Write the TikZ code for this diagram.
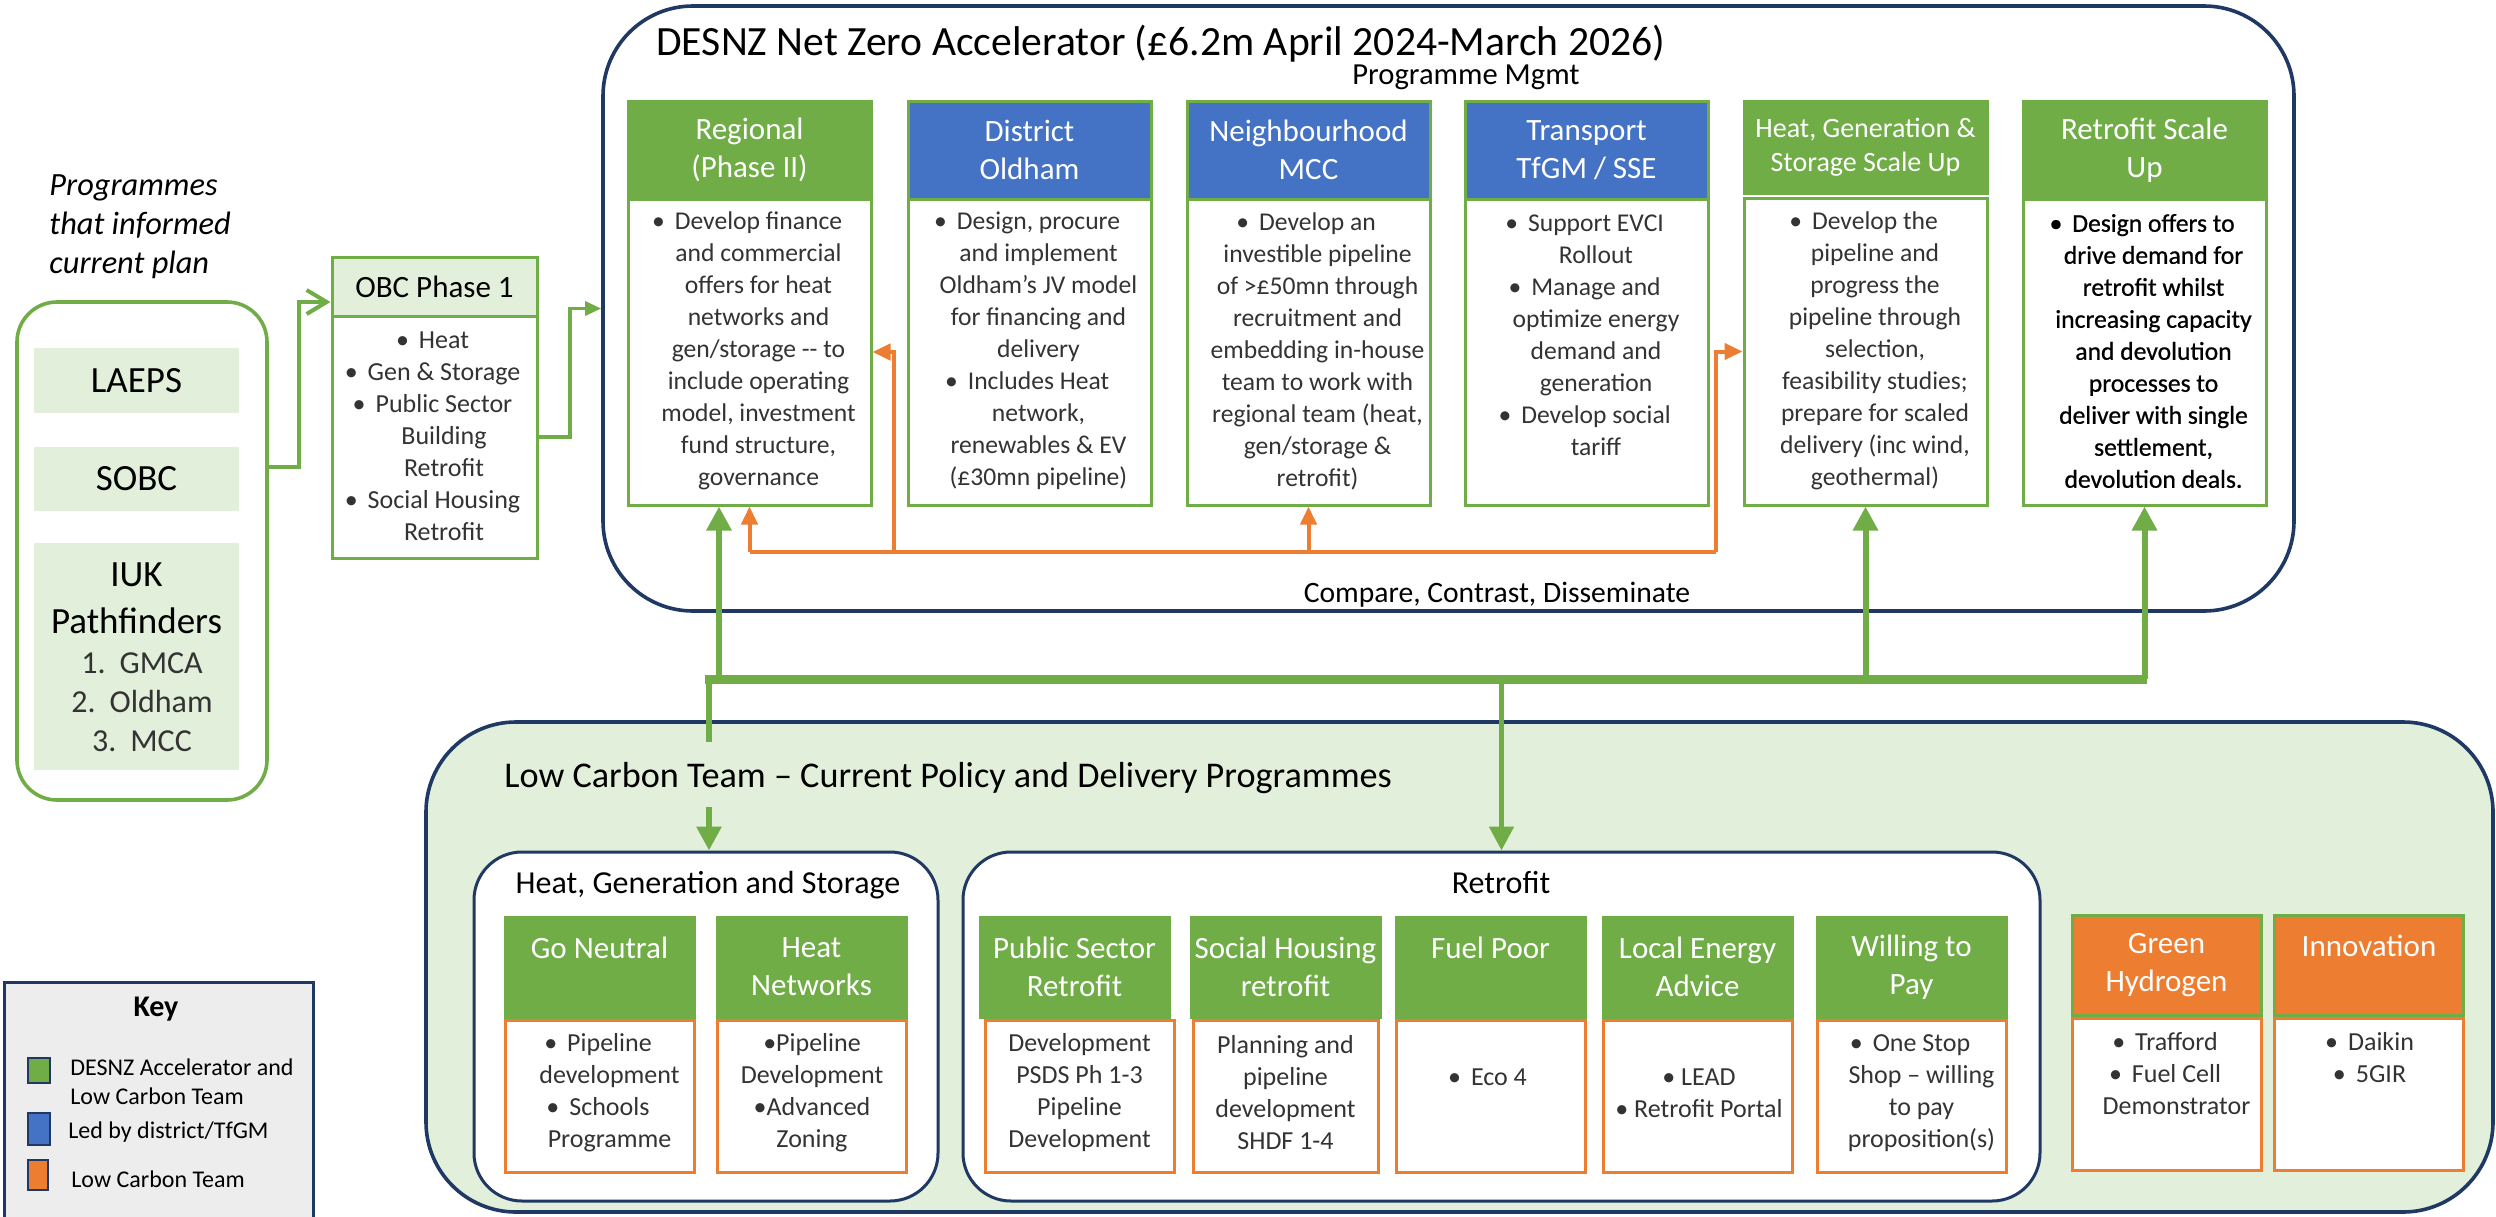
\documentclass[tikz,border=0pt]{standalone}
\usepackage{fontspec}
\setmainfont{Carlito}
\newfontface\semib[RawFeature={embolden=0.7}]{Carlito}
\usetikzlibrary{arrows.meta}
\definecolor{cgreen}{HTML}{70AD47}
\definecolor{cblue}{HTML}{4472C4}
\definecolor{corange}{HTML}{ED7D31}
\definecolor{cnavy}{HTML}{1F3864}
\definecolor{clight}{HTML}{E2EFDA}
\definecolor{ckey}{HTML}{EDEDED}
\definecolor{ctext}{HTML}{333333}
\newcommand\bulx{\llap{•\hspace{5pt}}}
\tikzset{
  sz/.style 2 args={minimum width=#1*0.5pt, minimum height=#2*0.5pt, inner sep=0pt},
  roundbox/.style={draw=cnavy, line width=1.8pt, rounded corners=45pt},
  subbox/.style={draw=cnavy, fill=white, line width=1.5pt, rounded corners=24pt},
  hdr/.style={draw=cgreen, fill=cgreen, line width=1.5pt, text=white, align=center, font=\fontsize{15.5}{19}\selectfont},
  bhdr/.style={hdr, fill=cblue},
  ohdr/.style={hdr, fill=corange},
  gbox/.style={draw=cgreen, fill=white, line width=1.5pt},
  obox/.style={draw=corange, fill=white, line width=1.5pt},
  bodytxt/.style={align=center, text=ctext, inner sep=0pt, font=\fontsize{12.8}{16}\selectfont},
  lowtxt/.style={align=center, text=ctext, inner sep=0pt, font=\fontsize{13}{16}\selectfont},
  item/.style={fill=clight, text=black, align=center},
  keysq/.style={draw=cnavy, line width=1.2pt},
  keytxt/.style={align=left, text=black, inner sep=0pt, font=\fontsize{12}{14.5}\selectfont},
  oline/.style={draw=corange, line width=2pt},
  oarr/.style={oline, -{Triangle[length=9pt, width=8pt]}},
  garr/.style={draw=cgreen, line width=3pt, -{Triangle[length=12pt, width=12pt]}},
  gbar/.style={draw=cgreen, line width=4.5pt},
  gopen/.style={draw=cgreen, line width=2pt, -{Straight Barb[length=10pt, width=12pt]}},
  gthin/.style={draw=cgreen, line width=1.6pt, -{Triangle[length=8pt, width=7pt]}}
}
\begin{document}
\begin{tikzpicture}[x=0.5pt, y=-0.5pt]
\useasboundingbox[fill=white] (0,0) rectangle (2496,1216);

% ---------- big containers ----------
\node[roundbox, fill=white, sz={1691}{605}] (desnz) at (1448.5,308.5) {};
\node[roundbox, fill=clight, sz={2067}{490}] (lct) at (1459.5,967) {};

% ---------- left column ----------
\node[anchor=west, align=left, inner sep=0pt, font=\itshape\fontsize{16.2}{19.5}\selectfont] (informed) at (49,227) {Programmes\\that informed\\current plan};
\node[draw=cgreen, line width=1.8pt, rounded corners=20pt, sz={250}{498}] (prog) at (142,551) {};
\node[item, sz={205}{65}, font=\fontsize{18.5}{22}\selectfont] (laeps) at (136.5,380.5) {LAEPS};
\node[item, sz={205}{64}, font=\fontsize{18.5}{22}\selectfont] (sobc) at (136.5,479) {SOBC};
\node[item, sz={205}{227}] (iuk) at (136.5,656.5) {};
\node[align=center, inner sep=0pt, font=\fontsize{18.5}{23.5}\selectfont] (iukt) at (136.5,598.5) {IUK\\Pathfinders};
\node[align=center, inner sep=0pt, text=ctext, font=\fontsize{16}{19.5}\selectfont] (iukl) at (142,702) {1.\hspace{7pt}GMCA\\2.\hspace{7pt}Oldham\\3.\hspace{7pt}MCC};

% ---------- OBC ----------
\node[draw=cgreen, fill=clight, line width=1.5pt, sz={205}{59}, font=\fontsize{15.5}{19}\selectfont] (obcH) at (434.5,286.5) {OBC Phase 1};
\node[gbox, sz={205}{242}] (obcB) at (434.5,437) {};
\node[lowtxt] (obcT) at (444,436) {\bulx Heat\\\bulx Gen \& Storage\\\bulx Public Sector\\Building\\Retrofit\\\bulx Social Housing\\Retrofit};

% ---------- DESNZ titles ----------
\node[anchor=base west, inner sep=0pt, font=\fontsize{20.8}{24}\selectfont] (title) at (656,55) {DESNZ Net Zero Accelerator (£6.2m April 2024-March 2026)};
\node[anchor=base, inner sep=0pt, font=\fontsize{15.3}{18}\selectfont] (pm) at (1466,84) {Programme Mgmt};
\node[anchor=base, inner sep=0pt, font=\fontsize{14.8}{17}\selectfont] (ccd) at (1497,602) {Compare, Contrast, Disseminate};

% ---------- top boxes ----------
\node[hdr, sz={243}{98}] (rgH) at (749.5,150) {Regional\\(Phase II)};
\node[gbox, sz={243}{306}] (rgB) at (749.5,352) {};
\node[bodytxt] (rgT) at (758.5,351) {\bulx Develop finance\\and commercial\\offers for heat\\networks and\\gen/storage -{}- to\\include operating\\model, investment\\fund structure,\\governance};

\node[bhdr, sz={243}{98}] (dsH) at (1029.5,150) {District\\Oldham};
\node[gbox, sz={243}{306}] (dsB) at (1029.5,352) {};
\node[bodytxt] (dsT) at (1038.5,351) {\bulx Design, procure\\and implement\\Oldham's JV model\\for financing and\\delivery\\\bulx Includes Heat\\network,\\renewables \& EV\\(£30mn pipeline)};

\node[bhdr, sz={243}{98}] (nbH) at (1308.5,150) {Neighbourhood\\MCC};
\node[gbox, sz={243}{306}] (nbB) at (1308.5,352) {};
\node[bodytxt] (nbT) at (1317.5,351) {\bulx Develop an\\investible pipeline\\of >£50mn through\\recruitment and\\embedding in-house\\team to work with\\regional team (heat,\\gen/storage \&\\retrofit)};

\node[bhdr, sz={243}{98}] (trH) at (1586.5,150) {Transport\\TfGM / SSE};
\node[gbox, sz={243}{306}] (trB) at (1586.5,352) {};
\node[bodytxt] (trT) at (1596,335) {\bulx Support EVCI\\Rollout\\\bulx Manage and\\optimize energy\\demand and\\generation\\\bulx Develop social\\tariff};

\node[hdr, sz={243}{92}, font=\fontsize{14}{17}\selectfont] (hgH) at (1865.5,147) {Heat, Generation \&\\Storage Scale Up};
\node[gbox, sz={243}{307}] (hgB) at (1865.5,351.5) {};
\node[bodytxt] (hgT) at (1875,351) {\bulx Develop the\\pipeline and\\progress the\\pipeline through\\selection,\\feasibility studies;\\prepare for scaled\\delivery (inc wind,\\geothermal)};

\node[hdr, sz={243}{98}] (rsH) at (2144.5,150) {Retrofit Scale\\Up};
\node[gbox, sz={243}{306}] (rsB) at (2144.5,352) {};
\node[bodytxt, text=black, font=\semib\fontsize{12.8}{16}\selectfont] (rsT) at (2153.5,351) {\bulx Design offers to\\drive demand for\\retrofit whilst\\increasing capacity\\and devolution\\processes to\\deliver with single\\settlement,\\devolution deals.};

% ---------- lower sub-containers ----------
\node[subbox, sz={464}{349}] (hgs) at (706,1026.5) {};
\node[anchor=base, inner sep=0pt, font=\fontsize{16}{19}\selectfont] (hgst) at (708,893) {Heat, Generation and Storage};
\node[subbox, sz={1077}{349}] (retro) at (1501.5,1026.5) {};
\node[anchor=base, inner sep=0pt, font=\fontsize{16}{19}\selectfont] (retrot) at (1501,893) {Retrofit};

% ---------- lower boxes ----------
\node[hdr, sz={189}{100}] (gnH) at (599.5,967) {Go Neutral\\\mbox{}};
\node[obox, sz={189}{152}] (gnB) at (599.5,1096) {};
\node[lowtxt] (gnT) at (609.5,1093) {\bulx Pipeline\\development\\\bulx Schools\\Programme};

\node[hdr, sz={189}{100}] (hnH) at (811.5,967) {Heat\\Networks};
\node[obox, sz={189}{152}] (hnB) at (811.5,1096) {};
\node[lowtxt] (hnT) at (812,1093) {•Pipeline\\Development\\•Advanced\\Zoning};

\node[hdr, sz={189}{100}] (psH) at (1074.5,967) {Public Sector\\Retrofit};
\node[obox, sz={189}{152}] (psB) at (1079.5,1096) {};
\node[lowtxt] (psT) at (1079.5,1093) {Development\\PSDS Ph 1-3\\Pipeline\\Development};

\node[hdr, sz={189}{100}] (shH) at (1285.5,967) {Social Housing\\retrofit};
\node[obox, sz={185}{152}] (shB) at (1285.5,1096) {};
\node[lowtxt] (shT) at (1285.5,1093) {Planning and\\pipeline\\development\\SHDF 1-4};

\node[hdr, sz={189}{100}] (fpH) at (1490.5,967) {Fuel Poor\\\mbox{}};
\node[obox, sz={189}{152}] (fpB) at (1490.5,1096) {};
\node[lowtxt] (fpT) at (1499,1077) {\bulx Eco 4};

\node[hdr, sz={189}{100}] (leH) at (1697.5,967) {Local Energy\\Advice};
\node[obox, sz={189}{152}] (leB) at (1697.5,1096) {};
\node[lowtxt] (leT) at (1699,1093) {• LEAD\\• Retrofit Portal};

\node[hdr, sz={189}{100}] (wpH) at (1911.5,967) {Willing to\\Pay};
\node[obox, sz={189}{152}] (wpB) at (1911.5,1096) {};
\node[lowtxt] (wpT) at (1921.5,1093) {\bulx One Stop\\Shop – willing\\to pay\\proposition(s)};

\node[ohdr, sz={189}{100}] (ghH) at (2166.5,965) {Green\\Hydrogen};
\node[obox, sz={189}{152}] (ghB) at (2166.5,1094) {};
\node[lowtxt] (ghT) at (2176.5,1074) {\bulx Trafford\\\bulx Fuel Cell\\Demonstrator};

\node[ohdr, sz={189}{100}] (inH) at (2369,965) {Innovation\\\mbox{}};
\node[obox, sz={189}{152}] (inB) at (2369,1094) {};
\node[lowtxt] (inT) at (2381,1058) {\bulx Daikin\\\bulx 5GIR};

% ---------- connectors: left ----------
\draw[gopen] (prog.east |- 0,467) -- (299,467) |- (obcH.west |- 0,302);
\draw[gthin] (obcB.east) -- (570,437) |- (desnz.west);

% ---------- connectors: orange ----------
\coordinate (oA) at (749.5,552);
\coordinate (oB) at (894,552);
\coordinate (oC) at (1308.5,552);
\coordinate (oD) at (1716,552);
\draw[oline] (oA) -- (oD);
\draw[oarr] (oA) -- (rgB.south);
\draw[oarr] (oB) |- (rgB.east);
\draw[oarr] (oC) -- (nbB.south);
\draw[oarr] (oD) |- (hgB.west);

% ---------- connectors: green ----------
\coordinate (gL) at (705,679);
\coordinate (gR) at (2147,679);
\coordinate (g1) at (719,679);
\coordinate (g2) at (1865.5,679);
\coordinate (g3) at (2144.5,679);
\coordinate (g4) at (709,679);
\coordinate (g5) at (1501.5,679);
\draw[gbar] (gL) -- (gR);
\draw[garr] (g1) -- (g1 |- rgB.south);
\draw[garr] (g2) -- (hgB.south);
\draw[garr] (g3) -- (rsB.south);
\draw[garr] (g4) -- (g4 |- hgs.north);
\draw[garr, line width=2.6pt] (g5) -- (retro.north);

% ---------- lower title (covers the line) ----------
\node[anchor=base west, fill=clight, inner xsep=2pt, inner ysep=0pt, text height=22.5pt, text depth=10pt, font=\fontsize{18.1}{21}\selectfont] (lctt) at (500,787) {Low Carbon Team – Current Policy and Delivery Programmes};

% ---------- key ----------
\node[draw=cnavy, fill=ckey, line width=1.5pt, sz={309}{245}, anchor=north west] (key) at (3,981) {};
\node[inner sep=0pt, font=\bfseries\fontsize{15}{18}\selectfont] (keyt) at (156,1009) {Key};
\node[keysq, fill=cgreen, sz={22}{25}] (k1) at (39,1070.5) {};
\node[keysq, fill=cblue, sz={22}{32}] (k2) at (39,1129) {};
\node[keysq, fill=corange, sz={20}{30}] (k3) at (38,1175) {};
\node[keytxt, anchor=west] (k1t) at (70,1081.5) {DESNZ Accelerator and\\Low Carbon Team};
\node[keytxt, anchor=west] (k2t) at (68,1132) {Led by district/TfGM};
\node[keytxt, anchor=west] (k3t) at (71,1179) {Low Carbon Team};
\end{tikzpicture}
\end{document}
